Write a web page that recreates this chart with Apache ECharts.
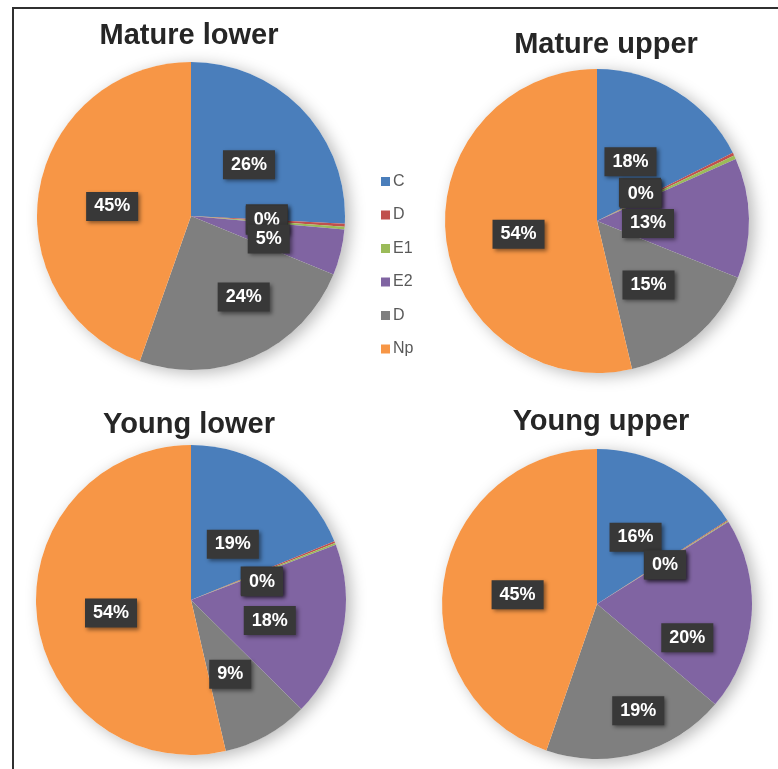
<!DOCTYPE html>
<html>
<head>
<meta charset="utf-8">
<script src="https://cdn.jsdelivr.net/npm/echarts@6/dist/echarts.min.js"></script>
<style>
  html, body { margin: 0; padding: 0; background: #ffffff; }
  #chart { width: 778px; height: 769px; }
</style>
</head>
<body>
<div id="chart"></div>
<script>
// Legend labels (two groups share the label "D")
const categories = ['C', 'D', 'E1', 'E2', 'D', 'Np'];
// Internal keys, one per category, so the legend keeps both "D" entries
const categoryKeys = ['C', 'D', 'E1', 'E2', 'Dg', 'Np'];

// Share of each group, in percent
const matureLower = [25.8, 0.3, 0.3, 4.8, 24.2, 44.6];
const matureUpper = [17.6, 0.3, 0.4, 12.8, 15.2, 53.7];
const youngLower  = [18.8, 0.2, 0.2, 18.2, 9.0, 53.6];
const youngUpper  = [15.9, 0.1, 0.1, 20.1, 19.1, 44.7];

const panelTitles = ['Mature lower', 'Mature upper', 'Young lower', 'Young upper'];

const palette = ['#4a7ebb', '#c0504d', '#9bbb59', '#8064a2', '#7f7f7f', '#f79646'];

// Layout of the four pies; labelNudge moves individual value labels (by slice index)
const panels = [
  { title: panelTitles[0], values: matureLower, center: [191, 216], radius: 154, titlePos: [189, 21],
    labelNudge: { 1: [-4, -6], 2: [-4, -6], 4: [20, 4] } },
  { title: panelTitles[1], values: matureUpper, center: [597, 221], radius: 152, titlePos: [606, 30],
    labelNudge: { 0: [-8, 4], 1: [-28, 2], 2: [-28, 2], 3: [-28, 0] } },
  { title: panelTitles[2], values: youngLower,  center: [191, 600], radius: 155, titlePos: [189, 410],
    labelNudge: { 0: [-3, 7], 1: [-4, 7], 2: [-4, 7] } },
  { title: panelTitles[3], values: youngUpper,  center: [597, 604], radius: 155, titlePos: [601, 407],
    labelNudge: { 3: [10, 24], 4: [20, 25] } }
];

const labelStyle = {
  show: true,
  position: 'inside',
  offset: [0, 4],
  formatter: p => Math.round(p.value) + '%',
  color: '#ffffff',
  fontFamily: 'Liberation Sans',
  fontWeight: 'bold',
  fontSize: 18,
  backgroundColor: '#383838',
  padding: [6, 8, 5, 8],
  shadowColor: 'rgba(0,0,0,0.45)',
  shadowBlur: 4,
  shadowOffsetX: 2,
  shadowOffsetY: 2
};

const series = [];
panels.forEach(p => {
  // soft drop shadow underneath each pie
  series.push({
    type: 'pie',
    silent: true,
    center: p.center,
    radius: p.radius,
    z: 1,
    label: { show: false },
    labelLine: { show: false },
    itemStyle: {
      color: '#ffffff',
      shadowColor: 'rgba(0,0,0,0.28)',
      shadowBlur: 16,
      shadowOffsetX: 5,
      shadowOffsetY: 3
    },
    data: [{ name: '', value: 1 }]
  });
  series.push({
    type: 'pie',
    name: p.title,
    center: p.center,
    radius: p.radius,
    startAngle: 90,
    clockwise: true,
    z: 2,
    minShowLabelAngle: 0,
    avoidLabelOverlap: false,
    labelLayout: { hideOverlap: false },
    emphasis: { disabled: true },
    label: labelStyle,
    labelLine: { show: false },
    itemStyle: { borderWidth: 0 },
    data: p.values.map((v, i) => {
      const item = { name: categoryKeys[i], value: v, itemStyle: { color: palette[i] } };
      if (p.labelNudge[i]) {
        item.label = { offset: [p.labelNudge[i][0], p.labelNudge[i][1] + 4] };
      }
      return item;
    })
  });
});

const titles = panels.map(p => ({
  text: p.title,
  left: p.titlePos[0],
  top: p.titlePos[1],
  textAlign: 'center',
  padding: 0,
  textStyle: {
    fontFamily: 'Liberation Sans',
    fontWeight: 'bold',
    fontSize: 29,
    color: '#262626'
  }
}));

const chart = echarts.init(document.getElementById('chart'), null, { renderer: 'canvas' });
chart.setOption({
  backgroundColor: '#ffffff',
  animation: false,
  title: titles,
  legend: {
    data: categoryKeys,
    orient: 'vertical',
    left: 376,
    top: 168,
    itemWidth: 9,
    itemHeight: 9,
    itemGap: 16.5,
    icon: 'rect',
    selectedMode: false,
    formatter: name => categories[categoryKeys.indexOf(name)],
    textStyle: {
      fontFamily: 'Liberation Sans',
      fontSize: 16,
      lineHeight: 17,
      color: '#595959',
      padding: [0, 0, 0, -2]
    }
  },
  graphic: [{
    type: 'rect',
    silent: true,
    shape: { x: 13, y: 8, width: 800, height: 800 },
    style: { fill: 'none', stroke: '#303030', lineWidth: 2 }
  }],
  series: series
});
</script>
</body>
</html>
